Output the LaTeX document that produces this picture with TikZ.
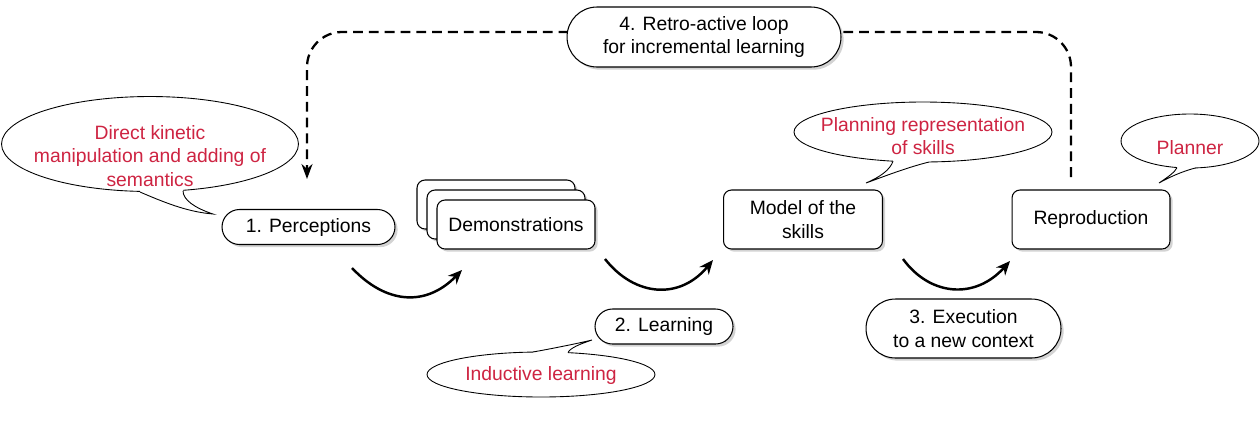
\documentclass[tikz,border=0pt]{standalone}
\usepackage{fontspec}
\setmainfont{Liberation Sans}
\usepackage{tikz}
\usetikzlibrary{arrows.meta,positioning,shapes.misc,shapes.geometric,shadows}

\definecolor{notered}{RGB}{206,36,66}

\tikzset{
  step box/.style={shape=rectangle, rounded corners=0.16cm, draw=black, fill=white,
    line width=0.6pt, align=center, inner sep=0pt,
    drop shadow={shadow xshift=1.5pt, shadow yshift=-1.5pt, opacity=0.35}},
  pill/.style={shape=rounded rectangle, draw=black, fill=white, line width=0.6pt,
    align=center, inner sep=0pt,
    drop shadow={shadow xshift=1.5pt, shadow yshift=-1.5pt, opacity=0.35}},
  bubble/.style={shape=ellipse, draw=black, fill=white, line width=0.5pt, inner sep=0pt},
  bubble text/.style={text=notered, align=center},
  tail/.style={draw=black, line width=0.5pt},
  flow/.style={line width=1.4pt, -{Stealth[length=0.28cm, width=0.24cm]}},
  loop/.style={line width=1.3pt, dash pattern=on 5.6pt off 3.4pt,
    rounded corners=0.7cm, -{Stealth[length=0.3cm, width=0.22cm]}}
}

\begin{document}
\begin{tikzpicture}[x=0.02cm, y=-0.02cm,
    font=\fontsize{11pt}{13.2pt}\selectfont]
  \useasboundingbox (0,0) rectangle (1260,424);

  % retro-active loop, drawn first so its label sits on top
  \coordinate (loopS) at (1071,177);
  \coordinate (loopE) at (307,179);
  \draw[loop] (loopS) -- (1071,32) -- (307,32) -- (loopE);

  % main steps
  \node[pill, minimum width=3.46cm, minimum height=0.7cm] (Perc) at (308.5,227) {1. Perceptions};
  \node[step box, minimum width=3.16cm, minimum height=0.98cm] (Demo2) at (496,204.5) {};
  \node[step box, minimum width=3.16cm, minimum height=0.98cm] (Demo1) at (506,214.5) {};
  \node[step box, minimum width=3.16cm, minimum height=0.98cm] (Demo) at (516,224.5) {Demonstrations};
  \node[step box, minimum width=3.18cm, minimum height=1.18cm] (Model) at (803,219.5) {Model of the\\skills};
  \node[step box, minimum width=3.16cm, minimum height=1.18cm] (Repro) at (1091,219.5) {Reproduction};

  % step labels
  \node[pill, minimum width=2.76cm, minimum height=0.7cm] (Learn) at (664,326.5) {2. Learning};
  \node[pill, minimum width=3.9cm, minimum height=1.18cm] (Exec) at (963.5,328.5) {3. Execution\\to a new context};
  \node[pill, minimum width=5.48cm, minimum height=1.2cm] (Retro) at (704,37) {4. Retro-active loop\\for incremental learning};

  % flow arrows
  \coordinate (f1a) at (352,268);
  \coordinate (f1b) at (462,270);
  \coordinate (f2a) at (605,259);
  \coordinate (f2b) at (713,260);
  \coordinate (f3a) at (903,259);
  \coordinate (f3b) at (1010,261);
  \draw[flow] (f1a) .. controls (385,303) and (425,308) .. (f1b);
  \draw[flow] (f2a) .. controls (635,297) and (680,300) .. (f2b);
  \draw[flow] (f3a) .. controls (930,296) and (975,300) .. (f3b);

  % speech bubbles
  \node[bubble, minimum width=5.94cm, minimum height=1.9cm] (Kin) at (150,144) {};
  \fill[white] (140,192) .. controls (170,205) and (190,212) .. (213,214)
       .. controls (195,208) and (183,200) .. (183,190.8) -- (183,188.5) -- (140,189.5) -- cycle;
  \draw[tail] (140,192) .. controls (170,205) and (190,212) .. (213,214)
       .. controls (195,208) and (183,200) .. (183,190.8);
  \node[bubble text] (KinT) at (150,156) {Direct kinetic\\manipulation and adding of\\semantics};

  \node[bubble, minimum width=4.56cm, minimum height=0.9cm] (Induct) at (541,374.5) {};
  \fill[white] (533,352) .. controls (555,348) and (575,344) .. (592,340)
       .. controls (580,344) and (570,348) .. (568,352.6) -- (568,355.5) -- (533,355) -- cycle;
  \draw[tail] (533,352) .. controls (555,348) and (575,344) .. (592,340)
       .. controls (580,344) and (570,348) .. (568,352.6);
  \node[bubble text] (InductT) at (541,375) {Inductive learning};

  \node[bubble, minimum width=5.16cm, minimum height=1.2cm] (Plan) at (923,132) {};
  \fill[white] (929,162) .. controls (905,168) and (880,178) .. (866,183)
       .. controls (880,177) and (890,170) .. (893,161.2) -- (893,158.5) -- (929,159) -- cycle;
  \draw[tail] (929,162) .. controls (905,168) and (880,178) .. (866,183)
       .. controls (880,177) and (890,170) .. (893,161.2);
  \node[bubble text] (PlanT) at (923,136) {Planning representation\\of skills};

  \node[bubble, minimum width=2.76cm, minimum height=1.08cm] (Planner) at (1190,141) {};
  \fill[white] (1196,167.8) .. controls (1180,172) and (1168,178) .. (1159,183)
       .. controls (1168,177) and (1175,172) .. (1177,167.6) -- (1177,165) -- (1196,165) -- cycle;
  \draw[tail] (1196,167.8) .. controls (1180,172) and (1168,178) .. (1159,183)
       .. controls (1168,177) and (1175,172) .. (1177,167.6);
  \node[bubble text] (PlannerT) at (1190,148) {Planner};
\end{tikzpicture}
\end{document}
